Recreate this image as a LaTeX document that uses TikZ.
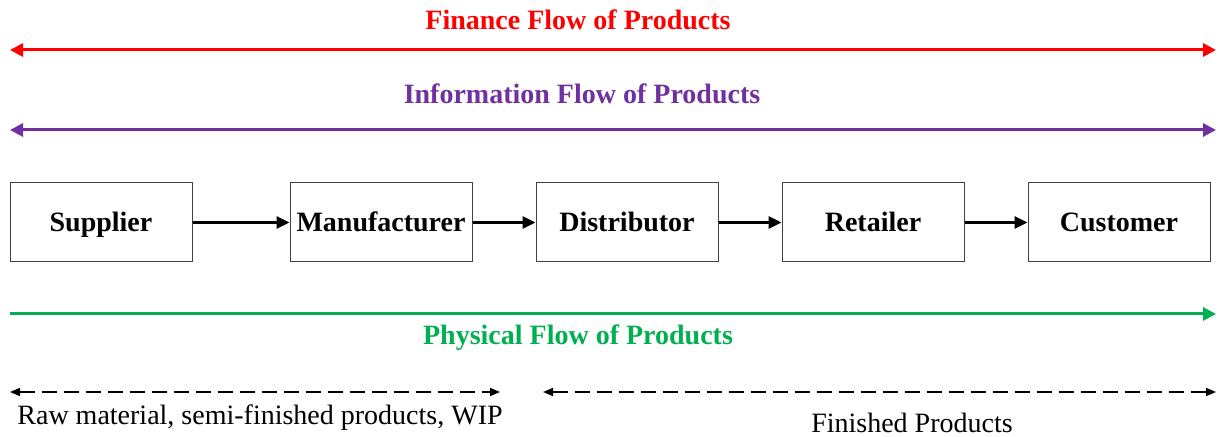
\documentclass[tikz,border=0pt]{standalone}
\usepackage{fontspec}
\setmainfont{Liberation Serif}
\usetikzlibrary{arrows.meta, positioning}

\definecolor{finred}{RGB}{255,0,0}
\definecolor{infopurple}{RGB}{112,48,160}
\definecolor{physgreen}{RGB}{0,176,80}

\begin{document}
\begin{tikzpicture}[x=0.5pt, y=-0.5pt, node distance=31.5pt, every node/.style={font=\fontsize{14}{16}\selectfont}, stage/.style={draw=black!75, line width=0.5pt, minimum width=91pt, minimum height=39.5pt, inner sep=0pt, text height=10.5pt, text depth=1.5pt, font=\fontsize{14}{16}\selectfont\bfseries}, title/.style={font=\fontsize{14}{16}\selectfont\bfseries}, flow/.style={line width=1.5pt, {Triangle[length=6.5pt,width=6.5pt]}-{Triangle[length=6.5pt,width=6.5pt]}}, link/.style={line width=1.5pt, -{Triangle[length=6.5pt,width=6pt]}}, span/.style={line width=0.8pt, dash pattern=on 7.5pt off 3.5pt, {Triangle[length=5pt,width=4pt]}-{Triangle[length=5pt,width=4pt]}}]
	\useasboundingbox (0,0) rectangle (1221,437);

	\node[title, text=finred] (fin) at (578,20) {Finance Flow of Products};
	\coordinate (finl) at (10,50);
	\coordinate (finr) at (1216,50);
	\draw[flow, finred] (finl) -- (finr);

	\node[title, text=infopurple] (info) at (582,94) {Information Flow of Products};
	\coordinate (infol) at (10,130);
	\coordinate (infor) at (1216,130);
	\draw[flow, infopurple] (infol) -- (infor);

	\node[stage] (sup) at (101,222.5) {Supplier};
	\node[stage] (man) [right=48.5pt of sup] {Manufacturer};
	\node[stage] (dis) [right=of man] {Distributor};
	\node[stage] (ret) [right=of dis] {Retailer};
	\node[stage] (cus) [right=of ret] {Customer};

	\draw[link] (sup) -- (man);
	\draw[link] (man) -- (dis);
	\draw[link] (dis) -- (ret);
	\draw[link] (ret) -- (cus);

	\coordinate (physl) at (10,314);
	\coordinate (physr) at (1216,314);
	\draw[line width=1.5pt, physgreen, -{Triangle[length=6.5pt,width=6.5pt]}] (physl) -- (physr);
	\node[title, text=physgreen] (phys) at (578,338) {Physical Flow of Products};

	\coordinate (rawl) at (10,392);
	\coordinate (rawr) at (500,392);
	\draw[span] (rawl) -- (rawr);
	\node (raw) at (260,418) {Raw material, semi-finished products, WIP};

	\coordinate (finil) at (543,392);
	\coordinate (finir) at (1216,392);
	\draw[span] (finil) -- (finir);
	\node (fini) at (912,423) {Finished Products};
\end{tikzpicture}
\end{document}
